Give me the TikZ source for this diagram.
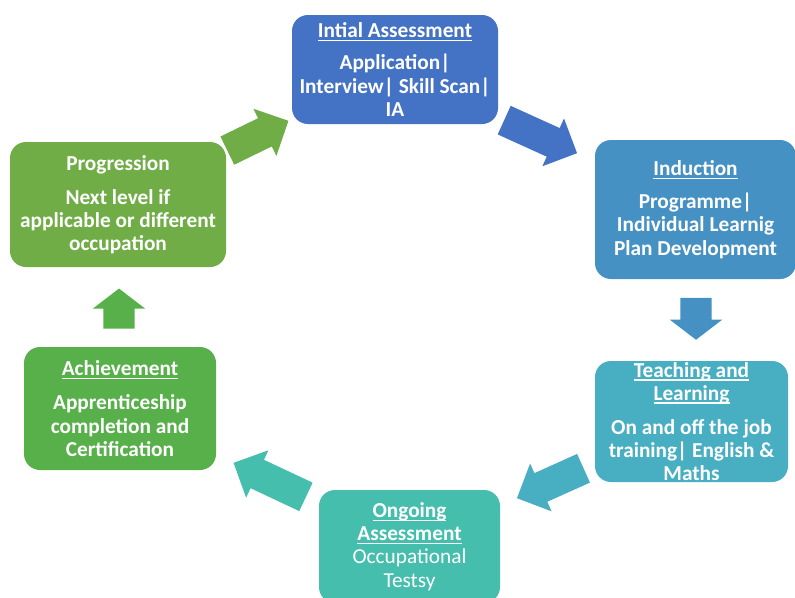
\documentclass[tikz,border=0pt]{standalone}
\usepackage{fontspec}
\setmainfont{Carlito}
\usetikzlibrary{shapes.arrows}

\definecolor{stageA}{HTML}{4472C4}
\definecolor{stageB}{HTML}{4691C3}
\definecolor{stageC}{HTML}{48AEC1}
\definecolor{stageD}{HTML}{45BEAE}
\definecolor{stageE}{HTML}{58B04B}
\definecolor{stageF}{HTML}{70AD47}

\newcommand{\stagetitle}[1]{\setbox0=\hbox{#1}\leavevmode\rlap{\rule[-3.5pt]{\wd0}{1.3pt}}\box0}

\tikzset{
  stagebox/.style={rectangle, rounded corners=16pt, text=white, align=center, inner sep=0pt,
    font=\bfseries\fontsize{21.3}{23.2}\selectfont},
  blockarrow/.style={single arrow, draw=none, inner xsep=0pt, inner ysep=15.5pt, anchor=tip,
    single arrow head extend=10.5pt, single arrow tip angle=90},
}

\begin{document}
\begin{tikzpicture}[x=1pt, y=-1pt]
  \clip (0,0) rectangle (795,597);
  \fill[white] (0,0) rectangle (795,597);

  \node[stagebox, fill=stageA, minimum width=206pt, minimum height=109pt] (initial) at (395,69.5)
    {\stagetitle{Intial Assessment}\\[9pt]Application|\\Interview| Skill Scan|\\IA};
  \node[stagebox, fill=stageB, minimum width=201pt, minimum height=139pt] (induction) at (695.5,209.5)
    {\stagetitle{Induction}\\[10pt]Programme|\\Individual Learnig\\Plan Development};
  \node[stagebox, fill=stageC, minimum width=193pt, minimum height=121pt] (teaching) at (691.5,421.5)
    {\stagetitle{Teaching and}\\\stagetitle{Learning}\\[11pt]On and off the job\\training| English \&\\Maths};
  \node[stagebox, fill=stageD, minimum width=181pt, minimum height=113pt] (ongoing) at (409.5,546.5)
    {\stagetitle{Ongoing}\\\stagetitle{Assessment}\\\mdseries Occupational\\\mdseries Testsy};
  \node[stagebox, fill=stageE, minimum width=192pt, minimum height=123pt] (achievement) at (120,408.5)
    {\stagetitle{Achievement}\\[11pt]Apprenticeship\\completion and\\Certification};
  \node[stagebox, fill=stageF, minimum width=216pt, minimum height=125pt] (progression) at (118,204.5)
    {Progression\\[11pt]Next level if\\applicable or different\\occupation};

  \node[blockarrow, fill=stageF, minimum height=68pt, rotate=26] (progtoinit) at (288.7,120.7) {};
  \node[blockarrow, fill=stageA, minimum height=80pt, rotate=-24.4] (inittoind) at (577.3,153.3) {};
  \node[blockarrow, fill=stageB, minimum height=42pt, rotate=-90, single arrow tip angle=105] (indtoteach) at (696,340) {};
  \node[blockarrow, fill=stageC, minimum height=73pt, rotate=204.2] (teachtoong) at (516.7,498.3) {};
  \node[blockarrow, fill=stageD, minimum height=80pt, rotate=154.8] (ongtoach) at (233.3,462.7) {};
  \node[blockarrow, fill=stageE, minimum height=40pt, rotate=90, single arrow tip angle=105] (achtoprog) at (119,288.3) {};
\end{tikzpicture}
\end{document}
